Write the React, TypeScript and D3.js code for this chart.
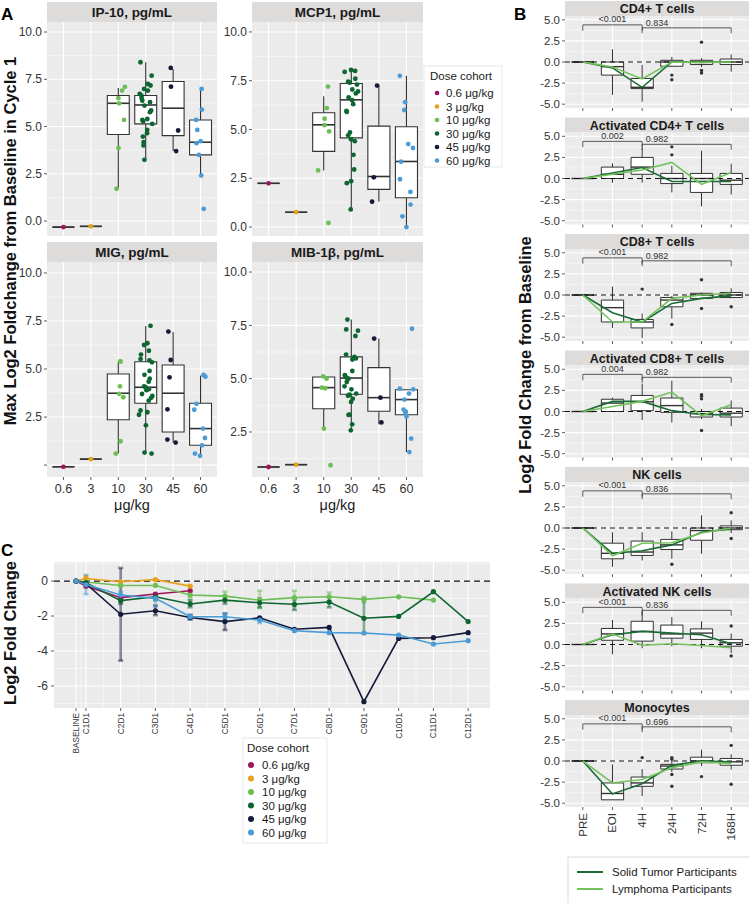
import React from "react";
import * as d3 from "d3";

const FONT = "'Liberation Sans', Arial, Helvetica, sans-serif";
const PANEL_BG = "#EBEBEB";
const STRIP_BG = "#DEDBDB";
const TICK_COL = "#333333";
const BOX_COL = "#333333";

// ---------------- Panel A data ----------------
const doseCohorts = ["0.6 μg/kg", "3 μg/kg", "10 μg/kg", "30 μg/kg", "45 μg/kg", "60 μg/kg"];
const doseTickLabels = ["0.6", "3", "10", "30", "45", "60"];
const doseColors = ["#A0145E", "#E8A11C", "#6DBE55", "#0D6630", "#141A3A", "#4B9BD6"];
const cytokineTitles = ["IP-10, pg/mL", "MCP1, pg/mL", "MIG, pg/mL", "MIB-1β, pg/mL"];
const aTicks = [0, 2.5, 5, 7.5, 10];
const aMinorTicks = [1.25, 3.75, 6.25, 8.75];

// boxes: [whiskerLow, q1, median, q3, whiskerHigh]
const ip10Points = [
  [-0.32], [-0.28],
  [7.1, 6.9, 6.5, 6.23, 5.35, 3.86, 1.71],
  [8.4, 7.69, 7.25, 7.17, 6.99, 6.9, 6.73, 6.64, 6.51, 6.37, 6.29, 6.11, 5.85, 5.76, 5.4, 5.35, 5.28, 5.14, 4.82, 4.65, 4.47, 4.17, 4.0, 3.24],
  [8.1, 7.11, 4.79, 3.7],
  [6.99, 5.9, 5.35, 4.82, 4.23, 4.12, 3.5, 2.41, 0.65],
];
const ip10Boxes = [
  [-0.32, -0.32, -0.32, -0.32, -0.32], [-0.28, -0.28, -0.28, -0.28, -0.28],
  [1.71, 4.58, 6.23, 6.64, 7.04], [3.29, 5.14, 6.14, 6.64, 8.4],
  [3.7, 4.52, 5.97, 7.38, 8.05], [2.41, 3.5, 4.17, 5.35, 6.99],
];
const mcp1Points = [
  [2.24], [0.76],
  [7.2, 6.1, 5.55, 5.22, 4.9, 2.9, 0.21],
  [8.05, 8.0, 7.95, 7.6, 7.45, 7.4, 7.3, 7.05, 6.95, 6.85, 6.65, 6.5, 6.3, 5.95, 5.9, 4.85, 4.7, 4.5, 4.4, 3.7, 2.95, 2.35, 2.25, 0.9],
  [7.25, 2.55, 1.3],
  [7.75, 6.4, 6.0, 4.25, 4.05, 3.35, 2.45, 1.8, 1.15, 0.55, 0.0],
];
const mcp1Boxes = [
  [2.24, 2.24, 2.24, 2.24, 2.24], [0.76, 0.76, 0.76, 0.76, 0.76],
  [2.9, 3.88, 5.24, 5.86, 6.7], [0.91, 4.57, 6.52, 7.36, 8.1],
  [1.3, 1.93, 2.59, 5.17, 7.25], [0.0, 1.5, 3.36, 5.14, 7.75],
];
const migPoints = [
  [-0.09], [0.31],
  [5.4, 5.38, 4.1, 3.71, 3.53, 1.24, 0.6],
  [7.25, 6.34, 6.25, 5.95, 5.75, 5.52, 5.45, 5.35, 4.9, 4.7, 4.5, 4.34, 4.1, 4.05, 3.95, 3.9, 3.7, 3.6, 3.5, 3.35, 2.84, 2.75, 2.62, 2.07, 0.65, 0.6],
  [6.95, 5.47, 4.57, 2.9, 1.33, 1.17],
  [4.69, 4.6, 3.19, 2.88, 1.9, 1.41, 1.03, 0.6, 0.48],
];
const migBoxes = [
  [-0.09, -0.09, -0.09, -0.09, -0.09], [0.31, 0.31, 0.31, 0.31, 0.31],
  [0.6, 2.36, 3.74, 4.74, 5.34], [0.6, 3.22, 4.05, 5.38, 7.24],
  [1.17, 1.72, 3.74, 5.21, 6.93], [0.48, 1.03, 1.9, 3.22, 4.66],
];
const mibPoints = [
  [0.86], [0.97],
  [5.11, 5.0, 4.58, 4.55, 2.66, 0.94],
  [7.77, 7.31, 7.25, 7.0, 6.13, 6.02, 5.95, 5.9, 5.36, 5.16, 5.05, 5.0, 4.84, 4.64, 4.5, 4.3, 4.25, 4.2, 4.06, 3.91, 3.31, 3.3, 2.86, 2.58],
  [6.88, 4.11, 2.95],
  [7.34, 4.53, 4.5, 4.3, 4.02, 3.55, 3.45, 3.36, 3.23, 2.19, 1.56],
];
const mibBoxes = [
  [0.86, 0.86, 0.86, 0.86, 0.86], [0.97, 0.97, 0.97, 0.97, 0.97],
  [2.66, 3.59, 4.58, 5.08, 5.08], [2.58, 4.27, 5.03, 6.02, 7.77],
  [2.86, 3.47, 4.11, 5.52, 6.88], [1.56, 3.31, 4.02, 4.48, 4.48],
];

// ---------------- Panel B data ----------------
const cellTitles = ["CD4+ T cells", "Activated CD4+ T cells", "CD8+ T cells", "Activated CD8+ T cells", "NK cells", "Activated NK cells", "Monocytes"];
const timepoints = ["PRE", "EOI", "4H", "24H", "72H", "168H"];
const bTicks = [-5, -2.5, 0, 2.5, 5];
const bTickLabels = ["-5.0", "-2.5", "0.0", "2.5", "5.0"];
const bMinorTicks = [-3.75, -1.25, 1.25, 3.75];
const pValuesEarly = ["<0.001", "0.002", "<0.001", "0.004", "<0.001", "<0.001", "<0.001"];
const pValuesLate = ["0.834", "0.982", "0.982", "0.982", "0.836", "0.836", "0.696"];
const cellBoxes = [
  [[0, 0, 0, 0, 0], [-3.9, -1.55, -0.55, 0, 1.5], [-4.7, -3.15, -3.0, -1.95, -0.35], [-0.6, -0.5, 0, 0.2, 0.6], [-0.6, -0.3, 0, 0.2, 0.45], [-1.15, -0.3, 0, 0.35, 0.9]],
  [[0, 0, 0, 0, 0], [-0.5, 0, 0.5, 1.35, 1.8], [-0.5, 0.5, 1.35, 2.5, 3.6], [-1.65, -0.6, 0, 0.6, 1.5], [-3.3, -1.65, 0, 0.6, 3.3], [-1.9, -0.7, -0.2, 0.6, 1.75]],
  [[0, 0, 0, 0, 0], [-3.9, -3.2, -1.5, -0.6, 1.0], [-5.1, -3.9, -3.2, -2.9, -2.2], [-2.8, -1.4, -0.6, -0.3, -0.1], [-0.5, -0.4, 0, 0.2, 0.3], [-0.4, -0.3, 0, 0.3, 0.8]],
  [[0, 0, 0, 0, 0], [0, 0, 1.0, 1.45, 1.65], [-1.0, 0.1, 1.15, 1.9, 3.3], [-1.3, -0.1, 0.7, 1.6, 3.65], [-0.9, -0.65, -0.25, 0, 0.3], [-1.75, -0.65, -0.2, 0.4, 1.3]],
  [[0, 0, 0, 0, 0], [-4.6, -3.65, -3.0, -1.8, -0.5], [-3.85, -3.25, -2.85, -1.55, -0.5], [-3.65, -2.55, -2.0, -1.35, -0.4], [-3.05, -1.45, -0.3, 0, 1.5], [-0.6, -0.2, 0, 0.25, 0.9]],
  [[0, 0, 0, 0, 0], [-1.15, 0.5, 1.25, 1.9, 2.9], [-0.45, 0.4, 1.55, 2.75, 3.85], [-0.2, 0.75, 1.25, 2.3, 3.25], [-0.45, 0.6, 1.35, 1.85, 2.75], [-1.0, -0.2, 0.2, 0.6, 1.3]],
  [[0, 0, 0, 0, 0], [-4.6, -4.6, -3.85, -2.6, -0.4], [-4.15, -3.0, -2.6, -1.9, -0.95], [-1.3, -0.95, -0.6, -0.4, 0.0], [-0.6, -0.2, 0, 0.45, 1.35], [-1.0, -0.5, -0.1, 0.3, 0.8]],
];
const cellOutliers = [
  [[], [], [], [-1.55, -2.1], [2.35, -1.0, -1.3], []],
  [[], [], [], [3.75, 2.8], [], []],
  [[], [], [0.7], [-3.5], [1.8, -1.6], [-1.4]],
  [[], [], [], [], [2.0, 1.8, 1.5, -2.25], []],
  [[], [], [], [-4.3], [], [1.8, -1.25]],
  [[], [], [], [], [], [2.2, -1.35]],
  [[], [], [0.4], [0.4, 0.2, -1.6, -3.0], [-1.85], [1.85, -2.75]],
];
const solidTumorMedians = [
  [0, -0.7, -3.0, 0, -0.05, 0],
  [0, 0.65, 1.3, -0.35, -0.35, -0.35],
  [0, -2.1, -3.2, -1.0, -0.4, -0.1],
  [0, 1.2, 1.2, 0.1, -0.35, -0.4],
  [0, -3.0, -2.7, -2.0, -0.5, -0.1],
  [0, 1.15, 1.55, 1.35, 1.15, 0.08],
  [0, -3.9, -2.7, -0.5, 0.0, -0.1],
];
const lymphomaMedians = [
  [0, -0.6, -2.0, 0, -0.05, 0],
  [0, 0.5, 1.0, 1.9, -0.7, 0.7],
  [0, -3.2, -3.2, -0.4, 0.0, 0.2],
  [0, 0.6, 1.2, 2.3, -0.5, 0.8],
  [0, -3.3, -1.8, -1.75, -0.6, 0.0],
  [0, 1.23, -0.08, 0.08, -0.12, -0.38],
  [0, -2.6, -2.2, -0.8, -0.1, -0.3],
];
const participantGroups = ["Solid Tumor Participants", "Lymphoma Participants"];
const participantColors = ["#1B6B36", "#74C25C"];

// ---------------- Panel C data ----------------
const visitLabels = ["BASELINE", "C1D1", "C2D1", "C3D1", "C4D1", "C5D1", "C6D1", "C7D1", "C8D1", "C9D1", "C10D1", "C11D1", "C12D1"];
const visitDays = [-5, 1, 22, 43, 64, 85, 106, 127, 148, 169, 190, 211, 232];
const cTicks = [0, -2, -4, -6];
const cMinorTicks = [1, -1, -3, -5, -7];
const cDose06 = [0, -0.29, -0.95, -0.74, -0.55];
const cDose3 = [0, 0.15, -0.04, 0.08, -0.29];
const cDose10 = [0, -0.05, -0.25, -0.25, -0.8, -0.86, -1.09, -0.95, -0.9, -1.05, -0.9, -1.09];
const cDose30 = [0, -0.1, -1.12, -0.9, -1.31, -1.09, -1.24, -1.33, -1.2, -2.13, -2.02, -0.61, -2.32];
const cDose45 = [0, -0.15, -1.9, -1.7, -2.08, -2.32, -2.1, -2.76, -2.65, -6.9, -3.28, -3.24, -2.95];
const cDose60 = [0, -0.2, -0.8, -0.99, -2.04, -2.04, -2.23, -2.84, -2.95, -2.97, -3.09, -3.6, -3.41];
// error bars: [visit index, low, high]
const cErr06: number[][] = [];
const cErr3 = [[1, 0.0, 0.3]];
const cErr10 = [[1, -0.2, 0.15], [4, -1.0, -0.6], [5, -1.1, -0.6], [6, -1.55, -0.55], [7, -1.45, -0.55], [8, -1.15, -0.65], [9, -1.2, -0.9]];
const cErr30 = [[2, -1.3, -0.95], [3, -1.1, -0.75], [4, -1.5, -1.1], [5, -1.3, -0.9], [6, -1.5, -1.0], [7, -1.65, -1.05], [8, -1.5, -0.9], [9, -3.0, -1.0]];
const cErr45 = [[2, -4.55, 0.75], [3, -1.95, -1.4], [4, -2.2, -1.95], [5, -2.8, -1.85]];
const cErr60 = [[1, -0.75, 0.35], [2, -1.0, -0.6], [3, -1.45, -0.75], [4, -2.2, -1.9], [5, -2.25, -1.85], [6, -2.4, -2.1]];
const cSeries = [cDose06, cDose3, cDose10, cDose30, cDose45, cDose60];
const cErrors = [cErr06, cErr3, cErr10, cErr30, cErr45, cErr60];

// ---------------- layout ----------------
const aColumns = [[47, 217], [252, 423]];
const aRows = [
  { stripTop: 2, panelTop: 22, panelBottom: 236 },
  { stripTop: 242, panelTop: 262, panelBottom: 477 },
];
const aFacetSpecs = [
  { title: cytokineTitles[0], points: ip10Points, boxes: ip10Boxes, domain: [-0.79, 10.53], labels: ["0.0", "2.5", "5.0", "7.5", "10.0"], col: 0, row: 0 },
  { title: cytokineTitles[1], points: mcp1Points, boxes: mcp1Boxes, domain: [-0.46, 10.51], labels: ["0.0", "2.5", "5.0", "7.5", "10.0"], col: 1, row: 0 },
  { title: cytokineTitles[2], points: migPoints, boxes: migBoxes, domain: [-0.62, 10.57], labels: ["", "2.5", "5.0", "7.5", "10.0"], col: 0, row: 1 },
  { title: cytokineTitles[3], points: mibPoints, boxes: mibBoxes, domain: [0.39, 10.47], labels: ["0.0", "2.5", "5.0", "7.5", "10.0"], col: 1, row: 1 },
];

function boxPath(x0: number, x1: number, yTop: number, yBot: number) {
  return `M${x0},${yTop}H${x1}V${yBot}H${x0}Z`;
}

function FacetA({ spec, index }: any) {
  const [x0, x1] = aColumns[spec.col];
  const row = aRows[spec.row];
  const x = d3.scalePoint<string>().domain(doseTickLabels).range([x0, x1]).padding(0.6);
  const step = x.step();
  const bw = step * 0.8;
  const y = d3.scaleLinear().domain(spec.domain).range([row.panelBottom, row.panelTop]);
  const inDom = (t: number) => t >= spec.domain[0] && t <= spec.domain[1];
  const rng = d3.randomLcg(0.11 + index * 0.173);
  const showX = spec.row === 1;
  return (
    <g>
      <rect x={x0} y={row.stripTop} width={x1 - x0} height={row.panelTop - row.stripTop} fill={STRIP_BG} />
      <text x={(x0 + x1) / 2} y={row.stripTop + 15} textAnchor="middle" fontWeight="bold" fontSize={13.5} fill="#1a1a1a">{spec.title}</text>
      <rect x={x0} y={row.panelTop} width={x1 - x0} height={row.panelBottom - row.panelTop} fill={PANEL_BG} />
      {aMinorTicks.filter(inDom).map((t) => (
        <line key={"mn" + t} x1={x0} x2={x1} y1={y(t)} y2={y(t)} stroke="#fff" strokeWidth={0.5} />
      ))}
      {aTicks.map((t) => inDom(t) ? (
        <line key={"mj" + t} x1={x0} x2={x1} y1={y(t)} y2={y(t)} stroke="#fff" strokeWidth={1.1} />
      ) : null)}
      {doseTickLabels.map((c) => (
        <line key={"v" + c} x1={x(c)!} x2={x(c)!} y1={row.panelTop} y2={row.panelBottom} stroke="#fff" strokeWidth={1.1} />
      ))}
      {spec.boxes.map((b: number[], i: number) => {
        const cx = x(doseTickLabels[i])!;
        return (
          <g key={"b" + i}>
            <line x1={cx} x2={cx} y1={y(b[4])} y2={y(b[3])} stroke={BOX_COL} strokeWidth={1.1} />
            <line x1={cx} x2={cx} y1={y(b[1])} y2={y(b[0])} stroke={BOX_COL} strokeWidth={1.1} />
            <path d={boxPath(cx - bw / 2, cx + bw / 2, y(b[3]), y(b[1]))} fill="#fff" stroke={BOX_COL} strokeWidth={1.1} />
            <line x1={cx - bw / 2} x2={cx + bw / 2} y1={y(b[2])} y2={y(b[2])} stroke={BOX_COL} strokeWidth={1.6} />
          </g>
        );
      })}
      {spec.points.map((arr: number[], i: number) => {
        const cx = x(doseTickLabels[i])!;
        return arr.map((v, j) => {
          const off = arr.length > 1 ? (rng() - 0.5) * 0.5 * step : 0;
          return <circle key={"p" + i + "-" + j} cx={cx + off} cy={y(v)} r={2.4} fill={doseColors[i]} />;
        });
      })}
      {aTicks.map((t, i) => inDom(t) ? (
        <g key={"yt" + t}>
          <line x1={x0 - 3} x2={x0} y1={y(t)} y2={y(t)} stroke={TICK_COL} strokeWidth={0.8} />
          <text x={x0 - 5} y={y(t)} dy="0.35em" textAnchor="end" fontSize={12} fill={TICK_COL}>{spec.labels[i]}</text>
        </g>
      ) : null)}
      {showX && doseTickLabels.map((c) => (
        <g key={"xt" + c}>
          <line x1={x(c)!} x2={x(c)!} y1={row.panelBottom} y2={row.panelBottom + 3} stroke={TICK_COL} strokeWidth={0.8} />
          <text x={x(c)!} y={row.panelBottom + 16} textAnchor="middle" fontSize={12.5} fill={TICK_COL}>{c}</text>
        </g>
      ))}
      {showX && (
        <text x={(x0 + x1) / 2} y={row.panelBottom + 33} textAnchor="middle" fontSize={14.5} fill="#1a1a1a">μg/kg</text>
      )}
    </g>
  );
}

const bX0 = 565, bX1 = 749;
const bStride = 116.5, bStripH = 15, bPanelH = 92;
const bracketLevels = { line1: 4.4, leg1: 3.7, line2: 4.05, leg2: 3.4, label1: 4.7, label2: 4.3 };

function FacetB({ index }: any) {
  const stripTop = 1 + index * bStride;
  const top = stripTop + bStripH;
  const bottom = top + bPanelH;
  const x = d3.scalePoint<string>().domain(timepoints).range([bX0, bX1]).padding(0.6);
  const step = x.step();
  const bw = step * 0.75;
  const y = d3.scaleLinear().domain([-5.45, 5.45]).range([bottom, top]);
  const boxes = cellBoxes[index];
  const outl = cellOutliers[index];
  const line = d3.line<number>().x((_, i) => x(timepoints[i])!).y((v) => y(v));
  const xPre = x("PRE")!, x4 = x("4H")!, x24 = x("24H")!, xEnd = x("168H")!;
  const isLast = index === cellTitles.length - 1;
  return (
    <g>
      <rect x={bX0} y={stripTop} width={bX1 - bX0} height={bStripH} fill={STRIP_BG} />
      <text x={(bX0 + bX1) / 2} y={stripTop + 12} textAnchor="middle" fontWeight="bold" fontSize={12.5} fill="#1a1a1a">{cellTitles[index]}</text>
      <rect x={bX0} y={top} width={bX1 - bX0} height={bPanelH} fill={PANEL_BG} />
      {bMinorTicks.map((t) => (
        <line key={"mn" + t} x1={bX0} x2={bX1} y1={y(t)} y2={y(t)} stroke="#fff" strokeWidth={0.5} />
      ))}
      {bTicks.map((t) => (
        <line key={"mj" + t} x1={bX0} x2={bX1} y1={y(t)} y2={y(t)} stroke="#fff" strokeWidth={1.1} />
      ))}
      {timepoints.map((c) => (
        <line key={"v" + c} x1={x(c)!} x2={x(c)!} y1={top} y2={bottom} stroke="#fff" strokeWidth={1.1} />
      ))}
      {boxes.map((b, i) => {
        const cx = x(timepoints[i])!;
        return (
          <g key={"b" + i}>
            <line x1={cx} x2={cx} y1={y(b[4])} y2={y(b[3])} stroke={BOX_COL} strokeWidth={1} />
            <line x1={cx} x2={cx} y1={y(b[1])} y2={y(b[0])} stroke={BOX_COL} strokeWidth={1} />
            <path d={boxPath(cx - bw / 2, cx + bw / 2, y(b[3]), y(b[1]))} fill="#fff" stroke={BOX_COL} strokeWidth={1} />
            <line x1={cx - bw / 2} x2={cx + bw / 2} y1={y(b[2])} y2={y(b[2])} stroke={BOX_COL} strokeWidth={1.4} />
            {outl[i].map((v, j) => (
              <circle key={"o" + j} cx={cx} cy={y(v)} r={1.7} fill="#333" />
            ))}
          </g>
        );
      })}
      <line x1={bX0} x2={bX1} y1={y(0)} y2={y(0)} stroke="#111" strokeWidth={1.1} strokeDasharray="5,4" />
      <path d={line(solidTumorMedians[index]) || ""} fill="none" stroke={participantColors[0]} strokeWidth={1.6} />
      <path d={line(lymphomaMedians[index]) || ""} fill="none" stroke={participantColors[1]} strokeWidth={1.6} />
      <path d={`M${xPre},${y(bracketLevels.leg1)}V${y(bracketLevels.line1)}H${x4}V${y(bracketLevels.leg1)}`} fill="none" stroke="#333" strokeWidth={0.8} />
      <path d={`M${x4},${y(bracketLevels.leg2)}V${y(bracketLevels.line2)}H${xEnd}V${y(bracketLevels.leg2)}`} fill="none" stroke="#333" strokeWidth={0.8} />
      <text x={(xPre + x4) / 2} y={y(bracketLevels.label1)} textAnchor="middle" fontSize={9} fill="#333">{pValuesEarly[index]}</text>
      <text x={(x4 + x24) / 2} y={y(bracketLevels.label2)} textAnchor="middle" fontSize={9} fill="#333">{pValuesLate[index]}</text>
      {bTicks.map((t, i) => (
        <g key={"yt" + t}>
          <line x1={bX0 - 3} x2={bX0} y1={y(t)} y2={y(t)} stroke={TICK_COL} strokeWidth={0.8} />
          <text x={bX0 - 5} y={y(t)} dy="0.35em" textAnchor="end" fontSize={11.5} fill={TICK_COL}>{bTickLabels[i]}</text>
        </g>
      ))}
      {timepoints.map((c) => (
        <line key={"xt" + c} x1={x(c)!} x2={x(c)!} y1={bottom} y2={bottom + 3} stroke={TICK_COL} strokeWidth={0.8} />
      ))}
      {isLast && timepoints.map((c) => (
        <text key={"xl" + c} transform={`translate(${x(c)! + 4},${bottom + 6}) rotate(-90)`} textAnchor="end" fontSize={11.5} fill={TICK_COL}>{c}</text>
      ))}
    </g>
  );
}

function PanelC() {
  const x0 = 54, x1 = 490, top = 562, bottom = 708;
  const x = d3.scaleLinear().domain([-18.3, 245.2]).range([x0, x1]);
  const y = d3.scaleLinear().domain([-7.26, 1.09]).range([bottom, top]);
  const minorX = visitDays.slice(0, -1).map((d, i) => (d + visitDays[i + 1]) / 2);
  return (
    <g>
      <rect x={x0} y={top} width={x1 - x0} height={bottom - top} fill={PANEL_BG} />
      {cMinorTicks.map((t) => (
        <line key={"mh" + t} x1={x0} x2={x1} y1={y(t)} y2={y(t)} stroke="#fff" strokeWidth={0.5} />
      ))}
      {minorX.map((d, i) => (
        <line key={"mv" + i} x1={x(d)} x2={x(d)} y1={top} y2={bottom} stroke="#fff" strokeWidth={0.5} />
      ))}
      {cTicks.map((t) => (
        <line key={"jh" + t} x1={x0} x2={x1} y1={y(t)} y2={y(t)} stroke="#fff" strokeWidth={1.1} />
      ))}
      {visitDays.map((d, i) => (
        <line key={"jv" + i} x1={x(d)} x2={x(d)} y1={top} y2={bottom} stroke="#fff" strokeWidth={1.1} />
      ))}
      <line x1={x0} x2={x1} y1={y(0)} y2={y(0)} stroke="#111" strokeWidth={1.2} strokeDasharray="6,4" />
      {cErrors.map((errs, s) => (
        <g key={"e" + s} stroke={doseColors[s]} strokeOpacity={0.5} strokeWidth={2.6}>
          {errs.map((e, k) => {
            const cx = x(visitDays[e[0]]);
            return (
              <g key={k}>
                <line x1={cx} x2={cx} y1={y(e[1])} y2={y(e[2])} />
                <line x1={cx - 2.5} x2={cx + 2.5} y1={y(e[1])} y2={y(e[1])} />
                <line x1={cx - 2.5} x2={cx + 2.5} y1={y(e[2])} y2={y(e[2])} />
              </g>
            );
          })}
        </g>
      ))}
      {cSeries.map((vals, s) => {
        const ln = d3.line<number>().x((_, i) => x(visitDays[i])).y((v) => y(v));
        return (
          <g key={"s" + s}>
            <path d={ln(vals) || ""} fill="none" stroke={doseColors[s]} strokeWidth={1.6} />
            {vals.map((v, i) => (
              <circle key={i} cx={x(visitDays[i])} cy={y(v)} r={2.6} fill={doseColors[s]} />
            ))}
          </g>
        );
      })}
      {cTicks.map((t) => (
        <g key={"yt" + t}>
          <line x1={x0 - 3} x2={x0} y1={y(t)} y2={y(t)} stroke={TICK_COL} strokeWidth={0.8} />
          <text x={x0 - 6} y={y(t)} dy="0.35em" textAnchor="end" fontSize={12} fill={TICK_COL}>{t}</text>
        </g>
      ))}
      {visitDays.map((d, i) => (
        <g key={"xt" + i}>
          <line x1={x(d)} x2={x(d)} y1={bottom} y2={bottom + 3} stroke={TICK_COL} strokeWidth={0.8} />
          <text transform={`translate(${x(d) + 3},${bottom + 5}) rotate(-90)`} textAnchor="end" fontSize={8.3} fill={TICK_COL}>{visitLabels[i]}</text>
        </g>
      ))}
    </g>
  );
}

function DoseLegend({ x, y, w, h, r, fs, tOff, dOff, lOff }: any) {
  return (
    <g>
      <rect x={x} y={y} width={w} height={h} fill="#fff" stroke="#e2e2e2" strokeWidth={0.8} />
      <text x={x + tOff} y={y + 14} fontSize={fs} fill="#1a1a1a">Dose cohort</text>
      {doseCohorts.map((d, i) => (
        <g key={d}>
          <circle cx={x + dOff} cy={y + 27 + i * 13.5} r={r} fill={doseColors[i]} />
          <text x={x + lOff} y={y + 27 + i * 13.5} dy="0.35em" fontSize={fs} fill="#1a1a1a">{d}</text>
        </g>
      ))}
    </g>
  );
}

export default function App() {
  return (
    <svg width={749} height={903} viewBox="0 0 749 903" fontFamily={FONT}
      style={{ position: "absolute", left: 0, top: 0, background: "#fff", display: "block" }}>
      <rect x={0} y={0} width={749} height={903} fill="#fff" />
      {/* Panel A */}
      <text x={1} y={20} fontSize={17} fontWeight="bold">A</text>
      {aFacetSpecs.map((s, i) => <FacetA key={i} spec={s} index={i} />)}
      <text transform="translate(16,241) rotate(-90)" textAnchor="middle" fontSize={16.5} fontWeight="bold" fill="#111">Max Log2 Foldchange from Baseline in Cycle 1</text>
      <DoseLegend x={424} y={66} w={78} h={101} r={2.3} fs={11.5} tOff={6} dOff={13} lOff={22} />
      {/* Panel B */}
      <text x={514} y={20} fontSize={17} fontWeight="bold">B</text>
      {cellTitles.map((_, i) => <FacetB key={i} index={i} />)}
      <text transform="translate(531,365) rotate(-90)" textAnchor="middle" fontSize={16.5} fontWeight="bold" fill="#111">Log2 Fold Change from Baseline</text>
      <rect x={568} y={857} width={200} height={60} fill="#fff" stroke="#cfcfcf" strokeWidth={0.8} />
      {participantGroups.map((g, i) => (
        <g key={g}>
          <line x1={577} x2={603} y1={872 + i * 17} y2={872 + i * 17} stroke={participantColors[i]} strokeWidth={2} />
          <text x={612} y={872 + i * 17} dy="0.35em" fontSize={11.5} fill="#1a1a1a">{g}</text>
        </g>
      ))}
      {/* Panel C */}
      <text x={1} y={556} fontSize={17} fontWeight="bold">C</text>
      <PanelC />
      <text transform="translate(16,633) rotate(-90)" textAnchor="middle" fontSize={16.5} fontWeight="bold" fill="#111">Log2 Fold Change</text>
      <DoseLegend x={243} y={738} w={84} h={105} r={3} fs={11.5} tOff={4} dOff={8} lOff={19} />
    </svg>
  );
}
